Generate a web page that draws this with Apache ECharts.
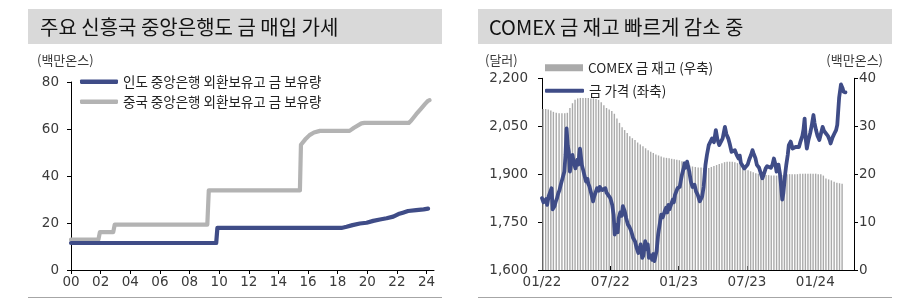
<!DOCTYPE html>
<html><head><meta charset="utf-8">
<script src="https://cdn.jsdelivr.net/npm/echarts@6/dist/echarts.min.js"></script>
<style>html,body{margin:0;padding:0;background:#fff}#c{width:909px;height:299px}</style>
</head><body><div id="c"></div>
<script>
// ---------- Left chart data (decimal year, million oz) ----------
const indiaYears = [2000, 2009.80, 2009.88, 2018.25, 2018.6, 2019.0, 2019.5, 2019.95, 2020.4, 2020.85, 2021.3, 2021.75, 2022.1, 2022.4, 2022.75, 2023.3, 2023.8, 2024.1];
const indiaHoldings = [11.5, 11.5, 17.9, 17.9, 18.4, 19.1, 19.8, 20.1, 20.9, 21.5, 22.0, 22.7, 23.8, 24.4, 25.1, 25.5, 25.8, 26.1];
const chinaYears = [2000, 2001.85, 2001.95, 2002.85, 2002.95, 2009.2, 2009.3, 2015.45, 2015.52, 2015.8, 2016.1, 2016.4, 2016.8, 2018.8, 2019.1, 2019.6, 2019.8, 2022.8, 2022.95, 2023.3, 2023.6, 2023.9, 2024.1, 2024.2];
const chinaHoldings = [12.9, 12.9, 16.1, 16.1, 19.3, 19.3, 33.9, 33.9, 53.3, 55.5, 57.4, 58.5, 59.2, 59.2, 60.5, 62.4, 62.6, 62.6, 63.5, 66.3, 68.5, 70.7, 72.0, 72.3];
const leftYearTicks = [2000, 2002, 2004, 2006, 2008, 2010, 2012, 2014, 2016, 2018, 2020, 2022, 2024];

// ---------- Right chart data ----------
const goldPrice = [
['2022-01-01',1825],['2022-01-05',1812],['2022-01-09',1810],['2022-01-12',1822],['2022-01-15',1804],['2022-01-19',1830],['2022-01-24',1846],['2022-01-27',1856],['2022-01-30',1790],
['2022-02-04',1800],['2022-02-07',1815],['2022-02-10',1825],['2022-02-13',1840],['2022-02-16',1850],['2022-02-19',1866],['2022-02-22',1880],['2022-02-24',1885],['2022-02-28',1908],
['2022-03-03',1960],['2022-03-06',2043],['2022-03-09',1990],['2022-03-12',1970],['2022-03-15',1908],['2022-03-18',1935],['2022-03-22',1960],['2022-03-25',1940],['2022-03-27',1930],['2022-03-30',1918],
['2022-04-04',1945],['2022-04-07',1930],['2022-04-09',1960],['2022-04-11',1980],['2022-04-14',1950],['2022-04-16',1929],['2022-04-19',1915],['2022-04-22',1900],['2022-04-27',1877],
['2022-05-01',1885],['2022-05-03',1870],['2022-05-06',1862],['2022-05-09',1856],['2022-05-13',1830],['2022-05-16',1815],['2022-05-19',1830],['2022-05-22',1840],['2022-05-27',1856],
['2022-06-01',1848],['2022-06-03',1860],['2022-06-07',1866],['2022-06-10',1850],['2022-06-13',1845],['2022-06-18',1856],['2022-06-21',1842],['2022-06-25',1840],
['2022-07-01',1825],['2022-07-06',1804],['2022-07-10',1773],['2022-07-13',1711],['2022-07-16',1730],['2022-07-19',1742],['2022-07-21',1718],['2022-07-24',1763],['2022-07-28',1780],
['2022-08-01',1770],['2022-08-04',1800],['2022-08-09',1785],['2022-08-13',1763],['2022-08-18',1742],['2022-08-22',1735],['2022-08-27',1721],
['2022-09-01',1700],['2022-09-06',1690],['2022-09-10',1670],['2022-09-15',1653],['2022-09-18',1665],['2022-09-21',1680],['2022-09-25',1638],['2022-09-28',1645],
['2022-10-03',1690],['2022-10-07',1665],['2022-10-10',1680],['2022-10-13',1638],['2022-10-18',1645],['2022-10-22',1632],['2022-10-25',1650],['2022-10-28',1628],
['2022-11-03',1660],['2022-11-07',1711],['2022-11-12',1750],['2022-11-15',1773],['2022-11-19',1765],['2022-11-24',1783],['2022-11-28',1795],
['2022-12-01',1780],['2022-12-04',1804],['2022-12-07',1790],['2022-12-10',1795],['2022-12-13',1810],['2022-12-16',1820],['2022-12-19',1812],['2022-12-22',1835],['2022-12-29',1856],
['2023-01-04',1860],['2023-01-07',1880],['2023-01-10',1898],['2023-01-15',1920],['2023-01-17',1934],['2023-01-19',1920],['2023-01-24',1939],['2023-01-27',1935],['2023-01-30',1908],
['2023-02-03',1877],['2023-02-07',1860],['2023-02-12',1867],['2023-02-16',1845],['2023-02-20',1835],['2023-02-25',1815],['2023-02-28',1820],
['2023-03-03',1830],['2023-03-07',1860],['2023-03-12',1929],['2023-03-16',1960],['2023-03-21',1991],['2023-03-25',1985],['2023-03-30',2012],
['2023-04-04',2000],['2023-04-09',2038],['2023-04-13',2010],['2023-04-18',1991],['2023-04-22',2000],['2023-04-27',2012],
['2023-05-03',2048],['2023-05-07',2025],['2023-05-12',2012],['2023-05-16',1995],['2023-05-21',1970],['2023-05-25',1965],['2023-05-30',1975],
['2023-06-04',1960],['2023-06-09',1949],['2023-06-12',1958],['2023-06-15',1935],['2023-06-19',1929],['2023-06-24',1918],['2023-06-28',1920],
['2023-07-03',1930],['2023-07-07',1945],['2023-07-12',1960],['2023-07-16',1975],['2023-07-19',1965],['2023-07-24',1950],['2023-07-28',1929],
['2023-08-03',1920],['2023-08-07',1905],['2023-08-12',1887],['2023-08-16',1900],['2023-08-21',1918],['2023-08-25',1925],['2023-08-30',1929],
['2023-09-04',1920],['2023-09-08',1929],['2023-09-12',1949],['2023-09-16',1930],['2023-09-19',1908],['2023-09-24',1930],['2023-09-28',1900],
['2023-10-01',1860],['2023-10-04',1820],['2023-10-07',1840],['2023-10-12',1900],['2023-10-15',1929],['2023-10-19',1960],['2023-10-22',1991],['2023-10-27',2002],
['2023-11-01',1980],['2023-11-04',1975],['2023-11-09',1985],['2023-11-13',1991],['2023-11-18',1985],['2023-11-22',2002],['2023-11-27',2020],['2023-11-30',2040],
['2023-12-03',2074],['2023-12-06',2010],['2023-12-09',1980],['2023-12-13',2005],['2023-12-18',2028],['2023-12-22',2050],['2023-12-27',2085],['2023-12-30',2060],
['2024-01-03',2038],['2024-01-07',2020],['2024-01-12',2007],['2024-01-16',2025],['2024-01-21',2048],['2024-01-25',2035],['2024-01-30',2033],
['2024-02-04',2020],['2024-02-09',2005],['2024-02-11',1996],['2024-02-16',2015],['2024-02-21',2028],['2024-02-25',2038],['2024-02-28',2054],
['2024-03-01',2090],['2024-03-04',2140],['2024-03-07',2165],['2024-03-09',2181],['2024-03-13',2170],['2024-03-16',2158],['2024-03-19',2162],['2024-03-21',2156]
];
// COMEX gold stocks, weekly from 2022-01-04 (million oz)
const stockStart = '2022-01-04';
const comexStocks = [
33.6,33.6,33.5,33.3,33.0,32.8,32.7,32.7,32.7,32.8,
33.8,34.8,35.5,35.8,35.9,35.9,35.9,35.9,35.8,35.8,
35.7,35.5,35.0,34.4,33.8,33.5,33.2,32.6,31.6,30.7,
29.8,29.2,28.6,27.9,27.5,27.1,26.6,26.2,25.8,25.4,
25.0,24.7,24.4,24.1,23.9,23.7,23.5,23.4,23.3,23.2,
23.1,23.0,22.9,22.7,22.4,22.1,21.8,21.6,21.5,21.4,
21.4,21.3,21.2,21.3,21.5,21.7,21.9,22.1,22.3,22.5,
22.6,22.6,22.6,22.5,22.3,22.0,21.5,21.0,20.8,20.6,
20.4,20.2,20.1,20.0,19.9,19.8,19.8,19.7,19.7,19.7,
19.7,19.8,19.9,20.0,20.0,20.0,20.0,20.0,20.1,20.1,
20.1,20.1,20.1,20.1,20.1,20.0,20.0,19.7,19.1,18.9,
18.7,18.4,18.2,18.1,18.0
];
const rightMonthTicks = [0, 6, 12, 18, 24]; // months since 2022-01

// ---------- helpers ----------
function toMonth(s){
  const [y,m,d] = s.split('-').map(Number);
  const dim = new Date(Date.UTC(y, m, 0)).getUTCDate();
  return (y-2022)*12 + (m-1) + (d-1)/dim;
}
function weekDate(start, k){
  const [y,m,d] = start.split('-').map(Number);
  const t = new Date(Date.UTC(y, m-1, d + 7*k));
  return t.getUTCFullYear()+'-'+String(t.getUTCMonth()+1).padStart(2,'0')+'-'+String(t.getUTCDate()).padStart(2,'0');
}
const zip = (a,b) => a.map((v,i)=>[v,b[i]]);

const FONT = '"Noto Sans CJK KR", "Noto Sans", sans-serif';
const NUMFONT = '"DejaVu Sans", sans-serif';
const NAVY = '#3f4c87';
const GRAY = '#b3b3b3';
const TXT = '#3a3a3a';

const chart = echarts.init(document.getElementById('c'), null, {renderer:'canvas'});
const axisLineStyle = {show:true, lineStyle:{color:'#000', width:1}};
const labelStyle = {color:TXT, fontSize:13.5, fontFamily:NUMFONT};
const legendText = {fontSize:13.5, color:'#222', fontFamily:FONT};

const option = {
  animation:false,
  backgroundColor:'#fff',
  textStyle:{fontFamily:FONT},
  graphic:[
    {type:'rect', shape:{x:28,y:9,width:414,height:35}, style:{fill:'#d9d9d9'}},
    {type:'rect', shape:{x:478,y:9,width:414,height:35}, style:{fill:'#d9d9d9'}},
    {type:'text', x:40, y:27, style:{text:'주요 신흥국 중앙은행도 금 매입 가세', font:'20px '+FONT, fill:'#111', verticalAlign:'middle'}},
    {type:'text', x:489, y:27, style:{text:'COMEX 금 재고 빠르게 감소 중', font:'20px '+FONT, fill:'#111', verticalAlign:'middle'}},
    {type:'text', x:37, y:60, style:{text:'(백만온스)', font:'13px '+FONT, fill:TXT, verticalAlign:'middle'}},
    {type:'text', x:485, y:60, style:{text:'(달러)', font:'13px '+FONT, fill:TXT, verticalAlign:'middle'}},
    {type:'text', x:883, y:60, style:{text:'(백만온스)', font:'13px '+FONT, fill:TXT, verticalAlign:'middle', align:'right'}},
    {type:'line', shape:{x1:28,y1:297.5,x2:442,y2:297.5}, style:{stroke:'#a6a6a6', lineWidth:1}},
    {type:'line', shape:{x1:478,y1:297.5,x2:892,y2:297.5}, style:{stroke:'#a6a6a6', lineWidth:1}}
  ],
  legend:[
    {left:80, top:75, padding:0, icon:'roundRect', itemWidth:38, itemHeight:4.5, data:['인도 중앙은행 외환보유고 금 보유량'], textStyle:legendText},
    {left:80, top:95, padding:0, icon:'roundRect', itemWidth:38, itemHeight:4.5, data:['중국 중앙은행 외환보유고 금 보유량'], textStyle:legendText},
    {left:545, top:61, padding:0, icon:'rect', itemWidth:38, itemHeight:7, data:['COMEX 금 재고 (우축)'], textStyle:legendText},
    {left:545, top:84, padding:0, icon:'roundRect', itemWidth:39, itemHeight:4, data:['금 가격 (좌축)'], textStyle:legendText}
  ],
  grid:[
    {left:71, top:82, width:363, height:188},
    {left:542, top:78.3, width:312, height:191.7}
  ],
  xAxis:[
    {type:'value', gridIndex:0, min:2000, max:2024.5, interval:2,
     axisLine:axisLineStyle, splitLine:{show:false},
     axisTick:{show:true, length:4, lineStyle:{color:'#000'}, customValues:leftYearTicks},
     axisLabel:Object.assign({margin:5, customValues:leftYearTicks, formatter:v=>String(Math.round(v)%100).padStart(2,'0')}, labelStyle)},
    {type:'value', gridIndex:1, min:0, max:27.4, interval:6,
     axisLine:axisLineStyle, splitLine:{show:false},
     axisTick:{show:true, inside:true, length:4, lineStyle:{color:'#000'}, customValues:rightMonthTicks},
     axisLabel:Object.assign({margin:5, customValues:rightMonthTicks, formatter:v=>{const m=Math.round(v);return String(m%12+1).padStart(2,'0')+'/'+(22+Math.floor(m/12));}}, labelStyle)}
  ],
  yAxis:[
    {type:'value', gridIndex:0, min:0, max:80, interval:20,
     axisLine:axisLineStyle, splitLine:{show:false},
     axisTick:{show:true, length:4, lineStyle:{color:'#000'}},
     axisLabel:Object.assign({margin:12}, labelStyle)},
    {type:'value', gridIndex:1, min:1600, max:2200, interval:150,
     axisLine:axisLineStyle, splitLine:{show:false},
     axisTick:{show:true, length:4, lineStyle:{color:'#000'}},
     axisLabel:Object.assign({margin:14, formatter:v=>v.toLocaleString('en-US')}, labelStyle)},
    {type:'value', gridIndex:1, position:'right', min:0, max:40, interval:10,
     axisLine:axisLineStyle, splitLine:{show:false},
     axisTick:{show:true, length:4, lineStyle:{color:'#000'}},
     axisLabel:Object.assign({margin:5}, labelStyle)}
  ],
  series:[
    {name:'중국 중앙은행 외환보유고 금 보유량', type:'line', xAxisIndex:0, yAxisIndex:0, symbol:'none',
     color:GRAY, lineStyle:{color:GRAY, width:4.2, cap:'round', join:'round'}, data:zip(chinaYears, chinaHoldings)},
    {name:'인도 중앙은행 외환보유고 금 보유량', type:'line', xAxisIndex:0, yAxisIndex:0, symbol:'none',
     color:NAVY, lineStyle:{color:NAVY, width:4.2, cap:'round', join:'round'}, data:zip(indiaYears, indiaHoldings)},
    {name:'COMEX 금 재고 (우축)', type:'bar', xAxisIndex:1, yAxisIndex:2, barWidth:1.4,
     color:'#aaaaaa', itemStyle:{color:'#aaaaaa'},
     data:comexStocks.map((v,k)=>[toMonth(weekDate(stockStart,k)), v])},
    {name:'금 가격 (좌축)', type:'line', xAxisIndex:1, yAxisIndex:1, symbol:'none',
     color:NAVY, lineStyle:{color:NAVY, width:3.8, cap:'round', join:'round'},
     data:goldPrice.map(p=>[toMonth(p[0]), p[1]])}
  ]
};
chart.setOption(option);
</script></body></html>
